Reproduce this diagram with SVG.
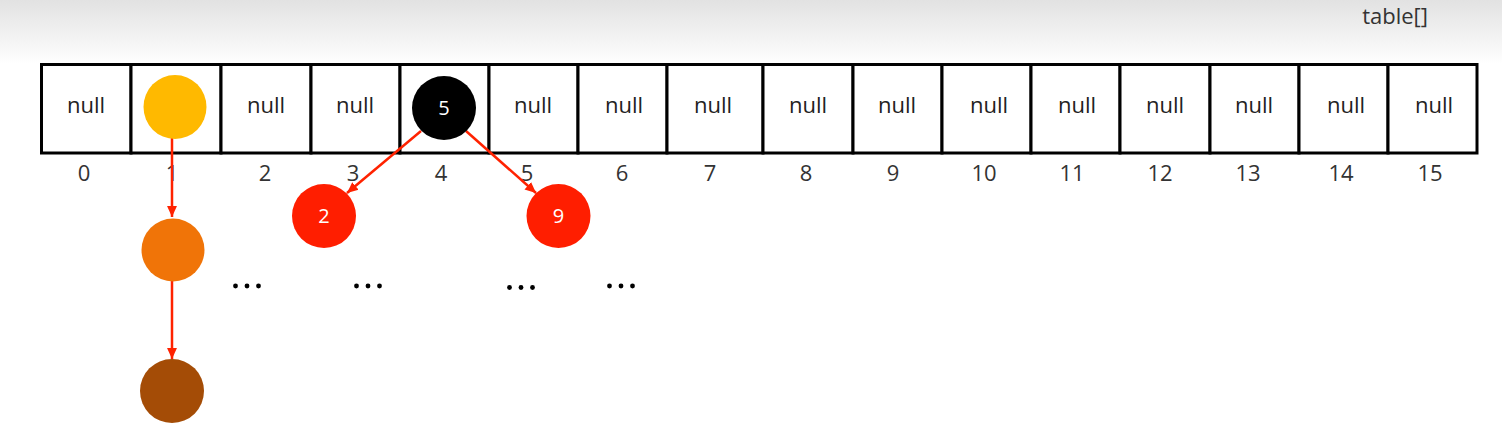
<svg xmlns="http://www.w3.org/2000/svg" width="1502" height="429" viewBox="0 0 1502 429">
<defs>
<linearGradient id="bg" x1="0" y1="0" x2="0" y2="1">
<stop offset="0" stop-color="#e2e2e2"/>
<stop offset="0.6" stop-color="#f3f3f3"/>
<stop offset="1" stop-color="#ffffff"/>
</linearGradient>
<marker id="ah" viewBox="0 0 10 10" refX="10" refY="5" markerWidth="4.4" markerHeight="4.4" orient="auto" markerUnits="strokeWidth">
<path d="M0,0.5 L10,5 L0,9.5 z" fill="#ff2200"/>
</marker>
<style>
.cell{fill:#fff;stroke:#000;stroke-width:3}
.t{font-family:"Open Sans","Noto Sans","DejaVu Sans",sans-serif;font-size:22px;fill:#222;text-anchor:middle}
.idx{font-family:"Open Sans","Noto Sans","DejaVu Sans",sans-serif;font-size:22px;fill:#333;text-anchor:middle}
.w{font-family:"Open Sans","Noto Sans","DejaVu Sans",sans-serif;font-size:20px;fill:#fff;text-anchor:middle}
.conn{stroke:#ff2200;stroke-width:2.5;fill:none;marker-end:url(#ah)}
.dot{fill:#000}
</style>
</defs>
<rect x="0" y="0" width="1502" height="429" fill="#fff"/>
<rect x="0" y="0" width="1502" height="64" fill="url(#bg)"/>
<text id="title" x="1428" y="24" class="t" style="text-anchor:end;fill:#333">table[]</text>

<g id="table">
<rect class="cell" x="41.5" y="64.5" width="89.5" height="88.5"/>
<rect class="cell" x="131" y="64.5" width="90" height="88.5"/>
<rect class="cell" x="221" y="64.5" width="90" height="88.5"/>
<rect class="cell" x="311" y="64.5" width="89" height="88.5"/>
<rect class="cell" x="400" y="64.5" width="89" height="88.5"/>
<rect class="cell" x="489" y="64.5" width="89" height="88.5"/>
<rect class="cell" x="578" y="64.5" width="89" height="88.5"/>
<rect class="cell" x="667" y="64.5" width="96" height="88.5"/>
<rect class="cell" x="763" y="64.5" width="90" height="88.5"/>
<rect class="cell" x="853" y="64.5" width="89" height="88.5"/>
<rect class="cell" x="942" y="64.5" width="89" height="88.5"/>
<rect class="cell" x="1031" y="64.5" width="89" height="88.5"/>
<rect class="cell" x="1120" y="64.5" width="90" height="88.5"/>
<rect class="cell" x="1210" y="64.5" width="89" height="88.5"/>
<rect class="cell" x="1299" y="64.5" width="89" height="88.5"/>
<rect class="cell" x="1388" y="64.5" width="89" height="88.5"/>
<text class="t" x="86" y="113">null</text>
<text class="t" x="266" y="113">null</text>
<text class="t" x="355" y="113">null</text>
<text class="t" x="533" y="113">null</text>
<text class="t" x="624" y="113">null</text>
<text class="t" x="713" y="113">null</text>
<text class="t" x="808" y="113">null</text>
<text class="t" x="897" y="113">null</text>
<text class="t" x="989" y="113">null</text>
<text class="t" x="1077" y="113">null</text>
<text class="t" x="1165" y="113">null</text>
<text class="t" x="1254" y="113">null</text>
<text class="t" x="1346" y="113">null</text>
<text class="t" x="1434" y="113">null</text>
</g>

<g id="indices">
<text class="idx" x="84" y="181">0</text>
<text class="idx" x="172" y="181">1</text>
<text class="idx" x="265" y="181">2</text>
<text class="idx" x="353" y="181">3</text>
<text class="idx" x="441" y="181">4</text>
<text class="idx" x="527" y="181">5</text>
<text class="idx" x="622" y="181">6</text>
<text class="idx" x="710" y="181">7</text>
<text class="idx" x="806" y="181">8</text>
<text class="idx" x="893" y="181">9</text>
<text class="idx" x="984" y="181">10</text>
<text class="idx" x="1072" y="181">11</text>
<text class="idx" x="1160" y="181">12</text>
<text class="idx" x="1248" y="181">13</text>
<text class="idx" x="1341" y="181">14</text>
<text class="idx" x="1430" y="181">15</text>
</g>

<g id="connectors">
<line class="conn" x1="172" y1="138" x2="172" y2="217"/>
<line class="conn" x1="172" y1="281" x2="172" y2="359"/>
<line class="conn" x1="421" y1="131" x2="347" y2="193"/>
<line class="conn" x1="466" y1="131" x2="536" y2="193"/>
</g>

<g id="node-yellow"><ellipse cx="175" cy="107" rx="31.5" ry="32" fill="#ffb900"/></g>
<g id="node-black"><ellipse cx="444" cy="108" rx="32" ry="32" fill="#000"/><text class="w" x="444" y="115">5</text></g>
<g id="node-orange"><ellipse cx="173" cy="250" rx="31.5" ry="31.5" fill="#f07408"/></g>
<g id="node-brown"><ellipse cx="172" cy="391" rx="32" ry="32" fill="#a44c06"/></g>
<g id="node-2"><ellipse cx="324" cy="216" rx="32" ry="32" fill="#ff1e00"/><text class="w" x="324" y="223">2</text></g>
<g id="node-9"><ellipse cx="558.5" cy="216" rx="32" ry="32" fill="#ff1e00"/><text class="w" x="558.5" y="223">9</text></g>

<g id="ellipses">
<circle class="dot" cx="235.5" cy="286" r="2.4"/><circle class="dot" cx="247" cy="286" r="2.4"/><circle class="dot" cx="258.5" cy="286" r="2.4"/>
<circle class="dot" cx="356.5" cy="286" r="2.4"/><circle class="dot" cx="368" cy="286" r="2.4"/><circle class="dot" cx="379.5" cy="286" r="2.4"/>
<circle class="dot" cx="509.5" cy="287.5" r="2.4"/><circle class="dot" cx="521" cy="287.5" r="2.4"/><circle class="dot" cx="532.5" cy="287.5" r="2.4"/>
<circle class="dot" cx="609.5" cy="286" r="2.4"/><circle class="dot" cx="621" cy="286" r="2.4"/><circle class="dot" cx="632.5" cy="286" r="2.4"/>
</g>
</svg>
